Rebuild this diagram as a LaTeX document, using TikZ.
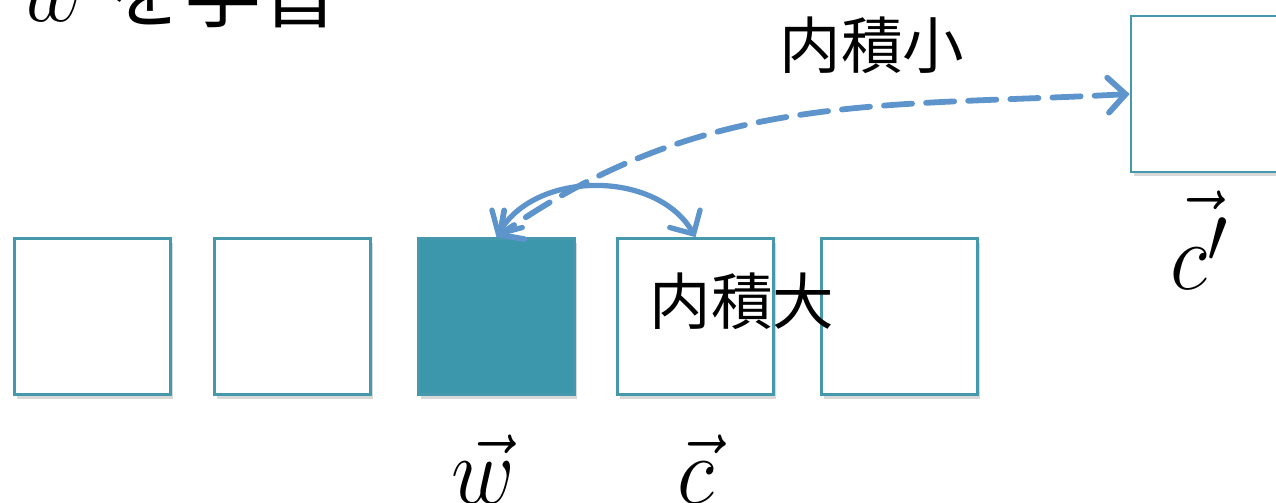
\documentclass[tikz,border=0pt]{standalone}
\usepackage{graphicx}
\usepackage{fontspec}
\newfontfamily\jp{Noto Sans CJK JP}
\usetikzlibrary{arrows.meta,shadows}
\definecolor{BoxLine}{RGB}{70,152,172}
\definecolor{BoxFill}{RGB}{60,150,172}
\definecolor{Arc}{RGB}{93,148,204}
\newcommand{\vecsym}[1]{\scalebox{2.0}[2.2]{\Huge$#1$}}

\tikzset{
  cell/.style={draw=BoxLine, line width=1.5pt, fill=white, inner sep=0pt,
    minimum width=3.12cm, minimum height=3.12cm,
    drop shadow={shadow xshift=0.5mm, shadow yshift=-0.9mm, opacity=0.3}},
  vlabel/.style={inner sep=0pt, anchor=base},
  jlabel/.style={inner sep=0pt, font=\fontsize{35}{35}\selectfont\jp},
  link/.style={draw=Arc, line width=3pt, line cap=round,
    {Straight Barb[length=3.5mm, width=7mm, line cap=round]}-{Straight Barb[length=3.5mm, width=7mm, line cap=round]}}
}

\begin{document}
\begin{tikzpicture}
\useasboundingbox (0,0) rectangle (25.52,10.04);
\clip (0,0) rectangle (25.52,10.04);

\node[cell] (b1) at (1.85,3.71) {};
\node[cell] (b2) at (5.85,3.71) {};
\node[cell, fill=BoxFill] (w) at (9.93,3.71) {};
\node[cell] (c) at (13.91,3.71) {};
\node[cell] (b5) at (17.99,3.71) {};
\node[cell] (cp) at (24.18,8.16) {};

\node[vlabel] (wl) at (9.66,-0.02) {\vecsym{\vec{w}}};
\node[vlabel] (cl) at (13.92,-0.02) {\vecsym{\vec{c}}};
\node[vlabel] (cpl) at (24.0,4.24) {\vecsym{\vec{c'}}};
\node[inner sep=0pt, anchor=base west, font=\fontsize{44}{44}\selectfont] (title) at (0.4,9.6) {\vecsym{\vec{w}} {\jp を学習}};

\draw[link] (w.north) to[out=60,in=120] (c.north);
\draw[link, line width=3.3pt, dash pattern=on 16pt off 8pt] (cp.west) to[out=183,in=35] (w.north);

\node[jlabel] (small) at (17.44,9.14) {内積小};
\node[jlabel] (large) at (14.84,4.02) {内積大};
\end{tikzpicture}
\end{document}
